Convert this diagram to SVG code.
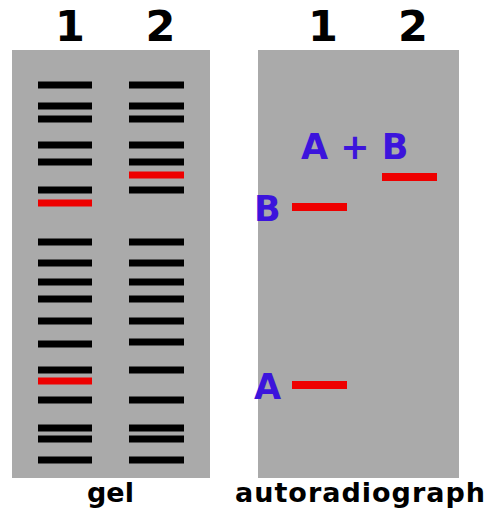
<svg xmlns="http://www.w3.org/2000/svg" width="487" height="512" viewBox="0 0 487 512">
  <style>
    .panel { fill: #aaaaaa; }
    .band { fill: #000000; }
    .hot { fill: #ee0000; }
    .lane { font-family: "DejaVu Sans", Verdana, sans-serif; font-weight: bold; font-size: 43px; fill: #000; text-anchor: middle; }
    .caption { font-family: "DejaVu Sans", Verdana, sans-serif; font-weight: bold; font-size: 27px; fill: #000; text-anchor: middle; }
    .mark { font-family: "DejaVu Sans", Verdana, sans-serif; font-weight: bold; font-size: 35px; fill: #3c14dc; }
  </style>
  <defs>
    <rect id="b1" x="38" width="54" height="7"/>
    <rect id="b2" x="129" width="55" height="7"/>
  </defs>
  <rect width="487" height="512" fill="#ffffff"/>

  <!-- gel panel -->
  <g id="gel">
    <rect class="panel" x="12" y="50" width="198" height="428"/>
    <g id="gel-lane1" class="band">
      <use href="#b1" y="81.5"/>
      <use href="#b1" y="102.5"/>
      <use href="#b1" y="115.5"/>
      <use href="#b1" y="141.5"/>
      <use href="#b1" y="158.5"/>
      <use href="#b1" y="186.5"/>
      <use href="#b1" y="238.5"/>
      <use href="#b1" y="259.5"/>
      <use href="#b1" y="278.5"/>
      <use href="#b1" y="295.5"/>
      <use href="#b1" y="317.5"/>
      <use href="#b1" y="340.5"/>
      <use href="#b1" y="366.5"/>
      <use href="#b1" y="396.5"/>
      <use href="#b1" y="424.5"/>
      <use href="#b1" y="435.5"/>
      <use href="#b1" y="456.5"/>
      <use class="hot" href="#b1" y="199.5"/>
      <use class="hot" href="#b1" y="377.5"/>
    </g>
    <g id="gel-lane2" class="band">
      <use href="#b2" y="81.5"/>
      <use href="#b2" y="102.5"/>
      <use href="#b2" y="115.5"/>
      <use href="#b2" y="141.5"/>
      <use href="#b2" y="158.5"/>
      <use href="#b2" y="186.5"/>
      <use href="#b2" y="238.5"/>
      <use href="#b2" y="259.5"/>
      <use href="#b2" y="278.5"/>
      <use href="#b2" y="295.5"/>
      <use href="#b2" y="317.5"/>
      <use href="#b2" y="338.5"/>
      <use href="#b2" y="366.5"/>
      <use href="#b2" y="396.5"/>
      <use href="#b2" y="424.5"/>
      <use href="#b2" y="435.5"/>
      <use href="#b2" y="456.5"/>
      <use class="hot" href="#b2" y="171.5"/>
    </g>
    <text class="lane" x="70" y="41">1</text>
    <text class="lane" x="160.5" y="41">2</text>
    <text class="caption" x="110.5" y="502">gel</text>
  </g>

  <!-- autoradiograph panel -->
  <g id="autoradiograph">
    <rect class="panel" x="258" y="50" width="201" height="428"/>
    <rect class="hot" x="292" y="203" width="55" height="8"/>
    <rect class="hot" x="382" y="173" width="55" height="8"/>
    <rect class="hot" x="292" y="381" width="55" height="8"/>
    <text class="mark" x="301" y="159" xml:space="preserve">A + B</text>
    <text class="mark" x="254" y="221">B</text>
    <text class="mark" x="254" y="399">A</text>
    <text class="lane" x="323" y="41">1</text>
    <text class="lane" x="413" y="41">2</text>
    <text class="caption" x="360" y="502" textLength="250" lengthAdjust="spacing">autoradiograph</text>
  </g>
</svg>
